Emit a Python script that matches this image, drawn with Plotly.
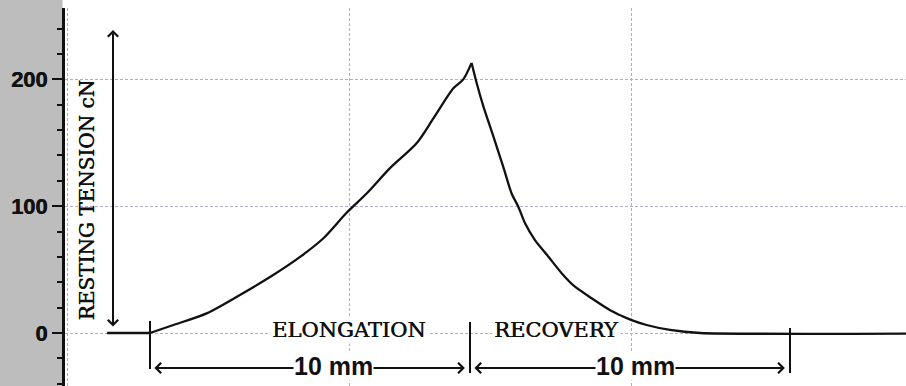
import plotly.graph_objects as go

# ---------------- data (mm of stretch, resting tension in cN) ----------------
baseline_mm = [-1.34, 0.0]
baseline_cN = [0.0, 0.0]

elongation_mm = [0.0, 0.73, 1.77, 2.81, 3.85, 4.69, 5.42, 6.15, 6.77, 7.5, 8.33, 8.85, 9.48, 9.79, 10.05]
elongation_cN = [0.0, 6.3, 15.5, 30.0, 45.7, 60.0, 74.7, 95.0, 110.0, 130.0, 149.6, 169.0, 193.0, 200.0, 213.0]

recovery_mm = [10.05, 10.21, 10.42, 10.73, 11.04, 11.30, 11.51, 11.72, 12.03, 12.45, 12.87, 13.28, 13.80,
               14.38, 15.03, 15.52, 16.25, 17.19, 23.7]
recovery_cN = [213.0, 197.0, 178.5, 155.0, 131.0, 110.0, 99.6, 86.5, 73.3, 60.2, 47.0, 36.5, 27.4,
               18.0, 10.3, 6.3, 2.4, 0.0, -0.5]

y_tick_vals = [0, 100, 200]
y_tick_text = ["0", "100", "200"]

phase_labels = ["ELONGATION", "RECOVERY"]
phase_bounds_mm = [0, 10, 20]
dimension_label = "10 mm"
y_title = "RESTING TENSION cN"

# ---------------- figure ----------------
W, H = 906, 386
ML, MR, MT, MB = 65, 0, 8, 0
PW, PH = W - ML - MR, H - MT - MB

X_RANGE = [-2.656, 23.625]
Y_RANGE = [-41.8, 256.3]

GRID = "#b3abc8"
FONT_SERIF = "DejaVu Serif"
FONT_SANS = "Liberation Sans"
INK = "#111111"
EMBOLDEN = "0.6px 0px 0px #111111"

fig = go.Figure()
line_style = dict(color=INK, width=2.3)
fig.add_trace(go.Scatter(x=baseline_mm, y=baseline_cN, mode="lines", line=line_style,
                         hoverinfo="skip", showlegend=False))
fig.add_trace(go.Scatter(x=elongation_mm, y=elongation_cN, mode="lines",
                         line=dict(line_style, shape="spline", smoothing=0.8),
                         hoverinfo="skip", showlegend=False))
fig.add_trace(go.Scatter(x=recovery_mm, y=recovery_cN, mode="lines",
                         line=dict(line_style, shape="spline", smoothing=0.6),
                         hoverinfo="skip", showlegend=False))

shapes = []
# grey panel on the left margin
shapes.append(dict(type="rect", xref="paper", yref="paper",
                   x0=-ML / PW, x1=-2.5 / PW, y0=-MB / PH, y1=1 + MT / PH,
                   fillcolor="#bdbdbd", line=dict(width=0), layer="below"))
# blank strip left of the grid
shapes.append(dict(type="rect", xref="x", yref="paper",
                   x0=-2.59, x1=-1.0, y0=0, y1=1,
                   fillcolor="white", line=dict(width=0), layer="between"))
# dimension ticks at 0, 10, 20 mm
tick_spans = [(9.5, -28.4), (8.7, -31.5), (3.9, -31.5)]
for xb, (ya, yb) in zip(phase_bounds_mm, tick_spans):
    shapes.append(dict(type="line", xref="x", yref="y", x0=xb, x1=xb, y0=ya, y1=yb,
                       line=dict(color=INK, width=2)))

annotations = []
arrow_common = dict(xref="x", yref="y", axref="x", ayref="y", text="", showarrow=True,
                    arrowhead=4, startarrowhead=4, arrowside="end+start",
                    arrowsize=1.0, startarrowsize=1.0, arrowwidth=2,
                    arrowcolor=INK, standoff=0, startstandoff=0)
# vertical double arrow
annotations.append(dict(arrow_common, x=-1.156, y=239, ax=-1.156, ay=3.9))
# horizontal dimension arrows
dim_y = -27.6
for a, b in [(0.09, 9.84), (10.09, 19.84)]:
    annotations.append(dict(arrow_common, x=b, y=dim_y, ax=a, ay=dim_y))
for xc in [5.72, 15.16]:
    annotations.append(dict(x=xc, y=-26.0, xref="x", yref="y", text=dimension_label,
                            showarrow=False, bgcolor="white", borderpad=0,
                            font=dict(family=FONT_SANS, size=25, color=INK, weight="bold")))
# phase labels
for lbl, xc in zip(phase_labels, [6.22, 12.69]):
    annotations.append(dict(x=xc, y=2.0, xref="x", yref="y", text=lbl, showarrow=False,
                            bgcolor="white", borderpad=1,
                            font=dict(family=FONT_SERIF, size=21, color=INK, shadow=EMBOLDEN)))
# y title
annotations.append(dict(x=-1.94, y=104.5, xref="x", yref="y", text=y_title, showarrow=False,
                        textangle=-90,
                        font=dict(family=FONT_SERIF, size=20, color=INK, shadow=EMBOLDEN)))

fig.update_layout(
    width=W, height=H,
    margin=dict(l=ML, r=MR, t=MT, b=MB, pad=0),
    paper_bgcolor="white", plot_bgcolor="white",
    shapes=shapes, annotations=annotations,
    showlegend=False,
    xaxis=dict(range=X_RANGE, showticklabels=False, ticks="", zeroline=False,
               showline=False, showgrid=True, gridcolor=GRID, gridwidth=1,
               griddash="3px,2px", tick0=6.219, dtick=8.8125, fixedrange=True),
    yaxis=dict(range=Y_RANGE, tickmode="array", tickvals=y_tick_vals, ticktext=y_tick_text,
               ticks="outside", ticklen=10, tickwidth=2, tickcolor=INK,
               showline=True, linecolor=INK, linewidth=3,
               showgrid=True, gridcolor=GRID, gridwidth=1, griddash="3px,2px",
               zeroline=False, ticklabelstandoff=0,
               tickfont=dict(family=FONT_SANS, size=22, color=INK, weight="bold",
                             shadow="0.5px 0px 0px #111111"),
               minor=dict(tickmode="linear", tick0=0, dtick=20, ticks="outside", ticklen=5,
                          tickwidth=2, tickcolor=INK, showgrid=False),
               fixedrange=True),
)

fig.write_html("out.html", config={"displayModeBar": False},
               post_script="document.body.style.margin='0px';document.body.style.overflow='hidden';")
